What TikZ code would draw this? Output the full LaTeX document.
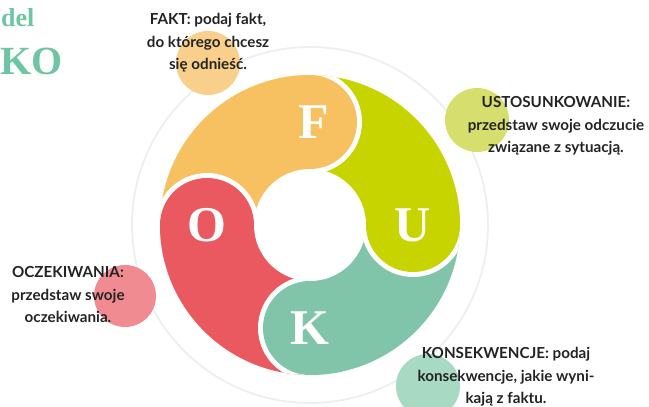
\documentclass[tikz,border=0pt]{standalone}
\usepackage{fontspec}
\setmainfont{Lato}
\newfontfamily\letterfont{Liberation Serif}
\definecolor{faktorange}{RGB}{247,193,97}
\definecolor{ustolime}{RGB}{199,212,0}
\definecolor{konsteal}{RGB}{128,197,170}
\definecolor{oczered}{RGB}{234,88,96}
\definecolor{faktlight}{RGB}{248,208,140}
\definecolor{ustolight}{RGB}{214,223,110}
\definecolor{konslight}{RGB}{168,218,195}
\definecolor{oczelight}{RGB}{240,140,145}
\definecolor{titleteal}{RGB}{111,197,163}
\definecolor{ringgrey}{RGB}{238,238,238}
\definecolor{notetext}{RGB}{35,35,35}
\usetikzlibrary{positioning}

\begin{document}
\begin{tikzpicture}[x=1pt,y=1pt,
    note/.style={align=center,text=notetext,font=\fontsize{15.2}{22.5}\selectfont\bfseries},
    letter/.style={text=white,font=\letterfont\fontsize{50}{50}\selectfont\bfseries},
    title/.style={anchor=base west,text=titleteal,font=\letterfont\bfseries}]
    \useasboundingbox (0,0) rectangle (649,407);

    % Title (cut at the left edge)
    \node[title,font=\letterfont\bfseries\fontsize{26}{26}\selectfont,inner sep=0pt] (tdel) at (1,380) {del};
    \node[title,font=\letterfont\bfseries\fontsize{40}{40}\selectfont,inner sep=0pt] (tko) at (0,332) {KO};

    % Grey ring and small circles
    \draw[ringgrey,line width=1.8pt] (310,182) circle (178);
    \fill[faktlight] (208,344) circle (32);
    \fill[ustolight] (477,287) circle (32);
    \fill[oczelight] (125,111) circle (31);
    \fill[konslight] (428,21) circle (32);

    % Wheel
    \begin{scope}[shift={(310,182)}]
        \clip (0,0) circle (150);
        \foreach \ang/\col in {90/faktorange,0/ustolime,-90/konsteal,180/oczered}
            \fill[\col] (0,0) -- (\ang:160) arc[start angle=\ang,delta angle=90,radius=160] -- cycle;
        \foreach \ang/\col in {90/faktorange,0/ustolime,-90/konsteal,180/oczered} {
            \fill[white] (\ang:103) circle (52);
            \begin{scope}
                \clip (0,0) -- (\ang:200) -- (\ang+45:280) -- (\ang+90:200) -- cycle;
                \fill[\col] (\ang:103) circle (54);
            \end{scope}
            \fill[\col] (\ang:103) circle (47);
        }
        \fill[white] (0,0) circle (56);
    \end{scope}

    % Letters
    \node[letter] (lf) at (314,285) {F};
    \node[letter] (lu) at (413,182) {U};
    \node[letter] (lk) at (310,79) {K};
    \node[letter] (lo) at (207,182) {O};

    % Notes
    \node[note] (fakt) at (208,364) {FAKT: podaj fakt,\\do którego chcesz\\się odnieść.};
    \node[note] (usto) at (556,281) {USTOSUNKOWANIE:\\przedstaw swoje odczucie\\związane z sytuacją.};
    \node[note] (ocze) at (68,112) {OCZEKIWANIA:\\przedstaw swoje\\oczekiwania.};
    \node[note] (kons) at (506,30) {KONSEKWENCJE: podaj\\konsekwencje, jakie wyni-\\kają z faktu.};
\end{tikzpicture}
\end{document}
